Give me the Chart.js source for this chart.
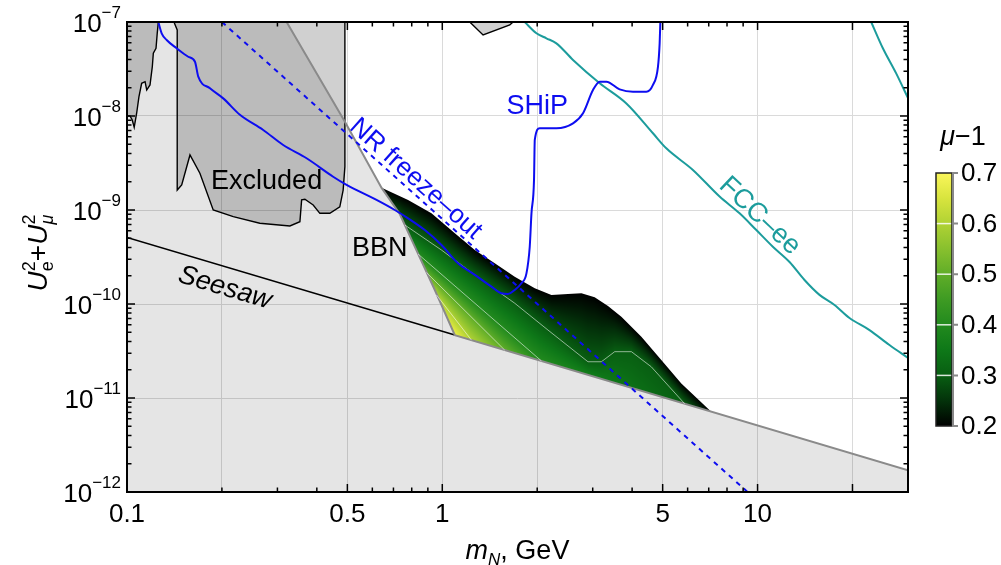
<!DOCTYPE html>
<html>
<head>
<meta charset="utf-8">
<title>mu-1 region</title>
<script src="https://cdn.jsdelivr.net/npm/chart.js@4.4.1/dist/chart.umd.min.js"></script>
<style>
  html, body { margin: 0; padding: 0; background: #fff; }
  canvas { display: block; }
</style>
</head>
<body>
<canvas id="plot" width="1001" height="565"></canvas>
<script>
// --- data: m_N [GeV] against U_e^2 + U_mu^2 ---

// seesaw line (black part) and BBN boundary, which continues along the seesaw line
const seesawM = [0.1, 1.096];
const seesawU = [5.1e-10, 4.67e-11];
const bbnM = [0.3208, 0.491, 0.642, 0.733, 0.818, 0.947, 1.096, 30];
const bbnU = [1e-7, 8.7e-9, 1.72e-9, 9.06e-10, 4.07e-10, 1.41e-10, 4.67e-11, 1.7e-12];

// excluded regions
const excl1M = [0.1257, 0.1247, 0.1236, 0.1212, 0.1203, 0.1183, 0.1155, 0.1141, 0.1113, 0.1091, 0.1073, 0.1054, 0.1039, 0.1022, 0.1, 0.1];
const excl1U = [1e-7, 7.58e-8, 5.25e-8, 4.65e-8, 3.34e-8, 2.14e-8, 1.89e-8, 2.32e-8, 2.23e-8, 1.6e-8, 1.07e-8, 7.59e-9, 9.07e-9, 1e-8, 1e-8, 1e-7];
const excl2M = [0.1409, 0.1443, 0.1443, 0.1491, 0.1584, 0.1703, 0.1877, 0.2173, 0.2638, 0.3286, 0.3535, 0.358, 0.3666, 0.3895, 0.409, 0.4398, 0.4731, 0.4848, 0.491, 0.491];
const excl2U = [1e-7, 8.22e-8, 1.63e-9, 1.85e-9, 3.85e-9, 2.46e-9, 1e-9, 8.49e-10, 7.22e-10, 6.76e-10, 7.51e-10, 1.28e-9, 1.3e-9, 1.13e-9, 9.22e-10, 9.22e-10, 1.08e-9, 1.63e-9, 2.89e-9, 1e-7];
const excl3M = [1.222, 1.347, 1.637, 1.677];
const excl3U = [1e-7, 7.27e-8, 9.29e-8, 1e-7];

// SHiP sensitivity
const shipM = [0.1257, 0.1288, 0.1336, 0.1437, 0.1564, 0.1643, 0.1683, 0.1833, 0.2019, 0.2281, 0.2704, 0.3129, 0.3712, 0.4507, 0.4971, 0.6186, 0.7069, 0.779, 0.88, 0.994, 1.122, 1.268, 1.432, 1.54, 1.616, 1.697, 1.782, 1.849, 1.894, 1.918, 1.954, 1.965, 2.037, 2.301, 2.598, 2.795, 3.006, 3.157, 3.315, 3.652, 4.025, 4.438, 4.658, 4.831, 4.891, 4.916];
const shipU = [1e-7, 7.58e-8, 6.43e-8, 5.25e-8, 4.27e-8, 3.78e-8, 2.62e-8, 1.97e-8, 1.54e-8, 1.03e-8, 7.1e-9, 4.91e-9, 3.55e-9, 2.26e-9, 1.85e-9, 1.28e-9, 1e-9, 8.16e-10, 6.12e-10, 4.25e-10, 2.71e-10, 2.04e-10, 1.53e-10, 1.3e-10, 1.28e-10, 1.41e-10, 1.66e-10, 2.12e-10, 4.07e-10, 9.22e-10, 2.08e-9, 5.56e-9, 7.4e-9, 7.4e-9, 8.35e-9, 1.07e-8, 1.89e-8, 2.32e-8, 2.32e-8, 1.92e-8, 1.81e-8, 1.81e-8, 2.14e-8, 3.34e-8, 5.93e-8, 1e-7];

// NR freeze-out line
const nrM = [0.2, 9.3];
const nrU = [1e-7, 1e-12];

// FCC-ee sensitivity (two branches)
const fccM = [1.826, 1.989, 2.139, 2.301, 2.598, 3.157, 3.836, 4.658, 5.135, 6.236, 7.578, 8.77, 9.91, 11.18, 12.63, 14.09, 15.72, 17.54, 19.57, 22.65, 26.2, 30];
const fccU = [1e-7, 7.58e-8, 6.71e-8, 5.93e-8, 3.95e-8, 2.23e-8, 1.36e-8, 6.55e-9, 4.53e-9, 2.67e-9, 1.39e-9, 9.22e-10, 6.12e-10, 4.07e-10, 2.8e-10, 1.8e-10, 1.25e-10, 9.76e-11, 7.1e-11, 5.28e-11, 3.66e-11, 2.67e-11];
const fcc2M = [22.93, 24.95, 27.52, 30];
const fcc2U = [1e-7, 5.29e-8, 2.84e-8, 1.55e-8];

// mu-1 region: upper edge (mu-1 = 0.2) and contours inside it
const edgeM = [0.642, 0.779, 0.924, 1.096, 1.268, 1.467, 1.697, 1.965, 2.219, 2.504, 2.762, 3.043, 3.354, 3.698, 4.28, 4.95, 5.73, 7.13];
const edgeU = [1.72e-9, 1.28e-9, 9.22e-10, 5.65e-10, 3.75e-10, 2.71e-10, 1.95e-10, 1.47e-10, 1.25e-10, 1.28e-10, 1.3e-10, 1.18e-10, 9.53e-11, 7.33e-11, 4.49e-11, 2.54e-11, 1.43e-11, 7.15e-12];
const edgeLevel = 0.2;
const cornerLevel = 0.68;
const c03M = [0.761, 0.994, 1.268, 1.697, 2.164, 2.898, 3.196, 3.523, 3.98, 4.6, 5.87];
const c03U = [6.92e-10, 3.75e-10, 2.04e-10, 1.02e-10, 5.28e-11, 2.43e-11, 2.43e-11, 3.11e-11, 3.11e-11, 2.15e-11, 8.69e-12];
const c04M = [0.838, 2.062];
const c04U = [3.4e-10, 2.48e-11];
const c05M = [0.891, 1.578];
const c05U = [2.16e-10, 3.23e-11];
const c06M = [0.958, 1.238];
const c06U = [1.25e-10, 4.12e-11];
const contourLevels = [0.3, 0.4, 0.5, 0.6];

// axes and colour bar ticks
const xGrid = [0.2, 0.5, 1, 2, 5, 10, 20];
const yGrid = [1e-11, 1e-10, 1e-9, 1e-8];
const xLabels = [0.1, 0.5, 1, 5, 10];
const xMajor = [0.1, 0.5, 1, 5, 10, 20];
const xMinor = [0.2, 0.3, 0.4, 0.6, 0.7, 0.8, 0.9, 2, 3, 4, 6, 7, 8, 9];
const yExp = [-12, -11, -10, -9, -8, -7];
const barTicks = [0.2, 0.3, 0.4, 0.5, 0.6, 0.7];

// --- styles ---
const FONT = '"Liberation Sans", Arial, Helvetica, sans-serif';
const BLUE = '#0d0df0';
const TEAL = '#1c9c9c';
const GRID = '#dadada';
const TICK_PX = 26, SUP_PX = 17, NOTE_PX = 27;

// AvocadoColors-like ramp for mu-1
const ramp = [
  [0.20, 0, 0, 0],
  [0.25, 3, 50, 10],
  [0.30, 8, 94, 18],
  [0.35, 14, 120, 24],
  [0.40, 34, 138, 30],
  [0.45, 62, 155, 35],
  [0.50, 96, 173, 40],
  [0.55, 136, 192, 46],
  [0.60, 176, 210, 52],
  [0.65, 216, 228, 62],
  [0.70, 250, 246, 90]
];

const pt = (ms, us) => ms.map((m, i) => ({x: m, y: us[i]}));

const contourSets = [
  {level: contourLevels[0], m: c03M, u: c03U},
  {level: contourLevels[1], m: c04M, u: c04U},
  {level: contourLevels[2], m: c05M, u: c05U},
  {level: contourLevels[3], m: c06M, u: c06U}
];
const excluded = [[excl1M, excl1U], [excl2M, excl2U], [excl3M, excl3U]];

// closed outlines built from the curves above
const grayShape = [{x: 0.1, y: 1e-7}, ...pt(bbnM, bbnU), {x: 30, y: 1e-12}, {x: 0.1, y: 1e-12}];
const bbnInner = pt(bbnM, bbnU).filter(p => p.x > edgeM[0] && p.x < seesawM[1]).reverse();
const greenShape = [...pt(edgeM, edgeU), {x: seesawM[1], y: seesawU[1]}, ...bbnInner];

function rampColor(v) {
  v = Math.max(ramp[0][0], Math.min(ramp[ramp.length - 1][0], v));
  for (let i = 1; i < ramp.length; i++) {
    if (v <= ramp[i][0]) {
      const a = ramp[i - 1], b = ramp[i];
      const t = (v - a[0]) / (b[0] - a[0]);
      return [a[1] + (b[1] - a[1]) * t, a[2] + (b[2] - a[2]) * t, a[3] + (b[3] - a[3]) * t];
    }
  }
  return ramp[ramp.length - 1].slice(1);
}

function lerpAt(p, x) {
  const n = p.length;
  if (x <= p[0][0]) return p[0][1];
  if (x >= p[n - 1][0]) return p[n - 1][1];
  for (let i = 1; i < n; i++) {
    if (x <= p[i][0]) {
      const x0 = p[i - 1][0], y0 = p[i - 1][1], x1 = p[i][0], y1 = p[i][1];
      return x1 === x0 ? y1 : y0 + (y1 - y0) * (x - x0) / (x1 - x0);
    }
  }
  return p[n - 1][1];
}

// shading of the mu-1 region: per pixel column, interpolate between the
// upper edge, the contours and the lower boundary
let fieldCache = null;
function fieldPattern(chart) {
  const area = chart.chartArea;
  const xs = chart.scales.x, ys = chart.scales.y;
  if (!area || !xs || !ys) return 'rgba(0,0,0,0)';
  const key = [area.left, area.top, area.right, area.bottom].join(',');
  if (fieldCache && fieldCache.key === key) return fieldCache.pattern;

  const toPx = (ms, us) => ms.map((m, i) => [xs.getPixelForValue(m), ys.getPixelForValue(us[i])]);
  const top = toPx(edgeM, edgeU);
  const bbn = toPx(bbnM, bbnU).filter(p => p[0] <= xs.getPixelForValue(seesawM[1]) + 0.01);
  const corner = [xs.getPixelForValue(seesawM[1]), ys.getPixelForValue(seesawU[1])];
  const end = top[top.length - 1];
  const low = [corner, end];
  const cons = contourSets.map(c => ({level: c.level, p: toPx(c.m, c.u)}));

  const rim = [[top[0][0], edgeLevel]];
  cons.forEach(c => rim.push([c.p[0][0], c.level]));
  rim.push([corner[0], cornerLevel]);
  cons.slice().reverse().forEach(c => rim.push([c.p[c.p.length - 1][0], c.level]));
  rim.push([end[0], edgeLevel]);

  const W = chart.width, H = chart.height;
  const off = document.createElement('canvas');
  off.width = W; off.height = H;
  const octx = off.getContext('2d');
  const img = octx.createImageData(W, H);
  const xa = Math.max(0, Math.floor(top[0][0]) - 2), xb = Math.min(W - 1, Math.ceil(end[0]) + 2);
  for (let x = xa; x <= xb; x++) {
    const xc = x + 0.5;
    const yTop = lerpAt(top, xc);
    const yBot = xc < corner[0] ? lerpAt(bbn, xc) : lerpAt(low, xc);
    const samples = [[yTop, edgeLevel]];
    cons.forEach(c => {
      if (xc >= c.p[0][0] && xc <= c.p[c.p.length - 1][0]) samples.push([lerpAt(c.p, xc), c.level]);
    });
    samples.push([yBot, lerpAt(rim, xc)]);
    samples.sort((a, b) => a[0] - b[0]);
    const ya = Math.max(0, Math.floor(Math.min(yTop, yBot)) - 3);
    const yb = Math.min(H - 1, Math.ceil(Math.max(yTop, yBot)) + 3);
    for (let y = ya; y <= yb; y++) {
      const col = rampColor(lerpAt(samples, y + 0.5));
      const k = (y * W + x) * 4;
      img.data[k] = col[0]; img.data[k + 1] = col[1]; img.data[k + 2] = col[2]; img.data[k + 3] = 255;
    }
  }
  octx.putImageData(img, 0, 0);
  const pattern = chart.ctx.createPattern(off, 'no-repeat');
  fieldCache = {key, pattern};
  return pattern;
}

const line = (data, color, width, extra) => Object.assign({
  data, borderColor: color, borderWidth: width, pointRadius: 0, pointHoverRadius: 0,
  fill: false, tension: 0
}, extra || {});

// first dataset is drawn on top
const datasets = [
  line(pt(nrM, nrU), BLUE, 2, {borderDash: [5, 5]}),
  line(pt(shipM, shipU), BLUE, 2, {cubicInterpolationMode: 'monotone'}),
  line(pt(fccM, fccU), TEAL, 2, {cubicInterpolationMode: 'monotone'}),
  line(pt(fcc2M, fcc2U), TEAL, 2, {cubicInterpolationMode: 'monotone'}),
  ...contourSets.map(c => line(pt(c.m, c.u), 'rgba(255,255,255,0.55)', 1)),
  line(pt(bbnM, bbnU), '#8a8a8a', 2),
  line(greenShape, 'rgba(0,0,0,0)', 0, {fill: 'shape', backgroundColor: ctx => fieldPattern(ctx.chart)}),
  line(pt(seesawM, seesawU), '#000', 1.6),
  ...excluded.map(e => line(pt(e[0], e[1]), '#000', 1.4, {fill: 'shape', backgroundColor: 'rgba(0,0,0,0.185)'})),
  line(grayShape, 'rgba(0,0,0,0)', 0, {fill: 'shape', backgroundColor: 'rgba(0,0,0,0.1)'})
];

// labels inside the plot, anchored in data coordinates
const notes = [
  {text: 'Excluded', at: [0.2772, 2.0e-9], color: '#000'},
  {text: 'BBN', at: [0.6335, 3.92e-10], color: '#000'},
  {text: 'SHiP', at: [2.0, 1.26e-8], color: BLUE},
  {text: 'NR freeze\u2013out', at: [0.824, 2.14e-9], color: BLUE, size: 26, along: [[nrM[0], nrU[0]], [nrM[1], nrU[1]]]},
  {text: 'FCC\u2013ee', at: [10.15, 8.63e-10], color: TEAL, along: [[fccM[10], fccU[10]], [fccM[13], fccU[13]]]},
  {text: 'Seesaw', at: [0.2044, 1.48e-10], color: '#000', italic: true, along: [[seesawM[0], seesawU[0]], [seesawM[1], seesawU[1]]]}
];

function fontOf(px, italic) { return (italic ? 'italic ' : '') + px + 'px ' + FONT; }

// pieces are [text, size, italic, dy, stacked]; a stacked piece shares x with the one before
function runWidth(ctx, parts) {
  let w = 0, last = 0;
  parts.forEach(p => {
    ctx.font = fontOf(p[1], p[2]);
    const pw = ctx.measureText(p[0]).width;
    if (p[4]) { w += Math.max(0, pw - last); last = Math.max(last, pw); }
    else { w += pw; last = pw; }
  });
  return w;
}
function drawRun(ctx, parts, x, y) {
  let cx = x, startPrev = x, last = 0;
  parts.forEach(p => {
    ctx.font = fontOf(p[1], p[2]);
    const pw = ctx.measureText(p[0]).width;
    if (p[4]) {
      ctx.fillText(p[0], startPrev, y + p[3]);
      cx = startPrev + Math.max(last, pw);
      last = Math.max(last, pw);
    } else {
      ctx.fillText(p[0], cx, y + p[3]);
      startPrev = cx; last = pw; cx += pw;
    }
  });
}

const decor = {
  id: 'decor',
  afterDatasetsDraw(chart) {
    const {ctx, scales: {x, y}} = chart;
    ctx.save();
    notes.forEach(n => {
      let ang = 0;
      if (n.along) {
        const a = n.along[0], b = n.along[1];
        ang = Math.atan2(y.getPixelForValue(b[1]) - y.getPixelForValue(a[1]),
                         x.getPixelForValue(b[0]) - x.getPixelForValue(a[0]));
      }
      ctx.save();
      ctx.translate(x.getPixelForValue(n.at[0]), y.getPixelForValue(n.at[1]));
      ctx.rotate(ang);
      ctx.font = fontOf(n.size || NOTE_PX, n.italic);
      ctx.fillStyle = n.color;
      ctx.textAlign = 'center';
      ctx.textBaseline = 'middle';
      ctx.fillText(n.text, 0, 0);
      ctx.restore();
    });
    ctx.restore();
  },
  afterDraw(chart) {
    const {ctx, chartArea: a, scales: {x, y}} = chart;
    ctx.save();

    // inward ticks on all four sides
    ctx.strokeStyle = '#000';
    ctx.lineWidth = 1.5;
    const vt = (v, len) => {
      const px = x.getPixelForValue(v);
      ctx.beginPath();
      ctx.moveTo(px, a.bottom); ctx.lineTo(px, a.bottom - len);
      ctx.moveTo(px, a.top); ctx.lineTo(px, a.top + len);
      ctx.stroke();
    };
    const ht = (v, len) => {
      const py = y.getPixelForValue(v);
      ctx.beginPath();
      ctx.moveTo(a.left, py); ctx.lineTo(a.left + len, py);
      ctx.moveTo(a.right, py); ctx.lineTo(a.right - len, py);
      ctx.stroke();
    };
    xMajor.forEach(v => vt(v, 8));
    xMinor.forEach(v => vt(v, 4.5));
    yExp.forEach(e => {
      ht(Math.pow(10, e), 8);
      if (e < -7) for (let k = 2; k <= 9; k++) ht(k * Math.pow(10, e), 4.5);
    });

    // frame
    ctx.lineWidth = 2;
    ctx.strokeRect(a.left, a.top, a.right - a.left, a.bottom - a.top);

    // tick labels
    ctx.fillStyle = '#000';
    ctx.textBaseline = 'alphabetic';
    ctx.textAlign = 'center';
    ctx.font = fontOf(TICK_PX);
    xLabels.forEach(v => ctx.fillText(String(v), x.getPixelForValue(v), a.bottom + 30));
    ctx.textAlign = 'left';
    yExp.forEach(e => {
      const py = y.getPixelForValue(Math.pow(10, e));
      const parts = [['10', TICK_PX, false, 10], ['\u2212' + Math.abs(e), SUP_PX, false, -4]];
      const w = runWidth(ctx, parts) + 1;
      drawRun(ctx, parts, a.left - 5 - w, py);
    });

    // axis titles
    const xt = [['m', 27, true, 0], ['N', 17, true, 6], [', GeV', 27, false, 0]];
    const xw = runWidth(ctx, xt);
    drawRun(ctx, xt, (a.left + a.right) / 2 - xw / 2, a.bottom + 67);

    const yt = [['U', 28, true, 0], ['e', 18, false, 6], ['2', 18, false, -12, true],
                ['+', 28, false, 0], ['U', 28, true, 0], ['\u03bc', 18, true, 6], ['2', 18, false, -12, true]];
    ctx.save();
    ctx.translate(47, (a.top + a.bottom) / 2 - 4);
    ctx.rotate(-Math.PI / 2);
    const yw = runWidth(ctx, yt);
    drawRun(ctx, yt, -yw / 2, 0);
    ctx.restore();

    // colour bar
    const bar = {left: 936, width: 16, top: 173, bottom: 426};
    const vmin = barTicks[0], vmax = barTicks[barTicks.length - 1];
    const by = v => bar.bottom - (v - vmin) / (vmax - vmin) * (bar.bottom - bar.top);
    const grad = ctx.createLinearGradient(0, bar.bottom, 0, bar.top);
    ramp.forEach(r => grad.addColorStop((r[0] - vmin) / (vmax - vmin), `rgb(${r[1]},${r[2]},${r[3]})`));
    ctx.fillStyle = grad;
    ctx.fillRect(bar.left, bar.top, bar.width, bar.bottom - bar.top);
    ctx.strokeStyle = 'rgba(255,255,255,0.85)';
    ctx.lineWidth = 1.5;
    barTicks.slice(1, -1).forEach(v => {
      ctx.beginPath();
      ctx.moveTo(bar.left, by(v)); ctx.lineTo(bar.left + bar.width, by(v));
      ctx.stroke();
    });
    ctx.strokeStyle = '#222';
    ctx.lineWidth = 1.5;
    ctx.strokeRect(bar.left, bar.top, bar.width, bar.bottom - bar.top);
    ctx.strokeStyle = '#888';
    ctx.lineWidth = 2;
    ctx.beginPath();
    ctx.moveTo(bar.left + bar.width + 1, bar.top - 1);
    ctx.lineTo(bar.left + bar.width + 1, bar.bottom + 1);
    barTicks.forEach(v => {
      ctx.moveTo(bar.left + bar.width + 1, by(v));
      ctx.lineTo(bar.left + bar.width + 6, by(v));
    });
    ctx.stroke();
    ctx.fillStyle = '#000';
    ctx.textAlign = 'left';
    ctx.textBaseline = 'middle';
    ctx.font = fontOf(TICK_PX);
    barTicks.forEach(v => ctx.fillText(v.toFixed(1), bar.left + bar.width + 9, by(v) + 1));
    ctx.textBaseline = 'alphabetic';
    const bt = [['\u03bc', 27, true, 0], ['\u22121', 27, false, 0]];
    const bw = runWidth(ctx, bt);
    drawRun(ctx, bt, 963 - bw / 2, 145);

    ctx.restore();
  }
};

new Chart(document.getElementById('plot'), {
  type: 'line',
  data: {datasets},
  options: {
    responsive: false,
    devicePixelRatio: 1,
    animation: false,
    events: [],
    layout: {padding: {left: 127, right: 93, top: 22, bottom: 73}},
    plugins: {legend: {display: false}, tooltip: {enabled: false}},
    scales: {
      x: {
        type: 'logarithmic', min: 0.1, max: 30,
        afterBuildTicks: s => { s.ticks = xGrid.map(v => ({value: v})); },
        afterFit: s => { s.height = 0; },
        ticks: {display: false},
        grid: {color: GRID, lineWidth: 1, drawTicks: false},
        border: {display: false}
      },
      y: {
        type: 'logarithmic', min: 1e-12, max: 1e-7,
        afterBuildTicks: s => { s.ticks = yGrid.map(v => ({value: v})); },
        afterFit: s => { s.width = 0; },
        ticks: {display: false},
        grid: {color: GRID, lineWidth: 1, drawTicks: false},
        border: {display: false}
      }
    }
  },
  plugins: [decor]
});
</script>
</body>
</html>
